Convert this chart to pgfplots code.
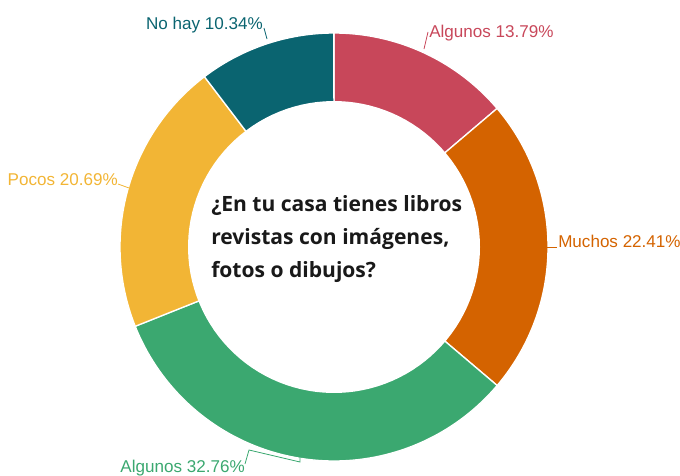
\documentclass[border=0pt]{standalone}
\usepackage{pgfplots}
\pgfplotsset{compat=1.18}
\usepackage{fontspec}
\setmainfont{Liberation Sans}
\newfontfamily\titlefont{Open Sans}
\definecolor{cRed}{HTML}{C8475A}
\definecolor{cOrange}{HTML}{D46300}
\definecolor{cGreen}{HTML}{3BA870}
\definecolor{cYellow}{HTML}{F2B535}
\definecolor{cTeal}{HTML}{0A6470}

\begin{document}
\begin{tikzpicture}
% shares in percent, clockwise from the top
\def\pA{13.79}\def\pB{22.41}\def\pC{32.76}\def\pD{20.69}\def\pE{10.34}
\pgfmathsetmacro{\aA}{90}
\pgfmathsetmacro{\aB}{\aA-3.6*\pA}
\pgfmathsetmacro{\aC}{\aB-3.6*\pB}
\pgfmathsetmacro{\aD}{\aC-3.6*\pC}
\pgfmathsetmacro{\aE}{\aD-3.6*\pD}
\pgfmathsetmacro{\aF}{\aE-3.6*\pE}
\def\cx{334}\def\cy{247}\def\R{214}\def\r{146}
\begin{axis}[
  name=ax,
  x=0.75pt, y=0.75pt, y dir=reverse,
  xmin=0, xmax=680, ymin=0, ymax=475,
  hide axis, clip=false,
  samples=80, variable=\t,
  every axis plot/.append style={draw=white, line width=1pt},
]
\addplot[fill=cRed, domain=\aB:\aA] ({\cx+\R*cos(t)},{\cy-\R*sin(t)}) -- (axis cs:\cx,\cy) -- cycle;
\addplot[fill=cOrange, domain=\aC:\aB] ({\cx+\R*cos(t)},{\cy-\R*sin(t)}) -- (axis cs:\cx,\cy) -- cycle;
\addplot[fill=cGreen, domain=\aD:\aC] ({\cx+\R*cos(t)},{\cy-\R*sin(t)}) -- (axis cs:\cx,\cy) -- cycle;
\addplot[fill=cYellow, domain=\aE:\aD] ({\cx+\R*cos(t)},{\cy-\R*sin(t)}) -- (axis cs:\cx,\cy) -- cycle;
\addplot[fill=cTeal, domain=\aF:\aE] ({\cx+\R*cos(t)},{\cy-\R*sin(t)}) -- (axis cs:\cx,\cy) -- cycle;
% hole
\addplot[fill=white, draw=none, domain=0:360, samples=120] ({\cx+\r*cos(t)},{\cy-\r*sin(t)}) -- cycle;

% leader lines
\draw[cTeal, line width=0.6pt] (axis cs:267,39) -- (axis cs:264,28);
\draw[cRed, line width=0.6pt] (axis cs:424,49) -- (axis cs:428,32);
\draw[cYellow, line width=0.6pt] (axis cs:118,184) -- (axis cs:129,188);
\draw[cOrange, line width=0.6pt] (axis cs:546,247) -- (axis cs:557,247);
\draw[cGreen, line width=0.6pt] (axis cs:245,464) -- (axis cs:249,450) -- (axis cs:300,462) -- (axis cs:300,456);

% labels
\node[anchor=base east, inner sep=0pt, text=cTeal, font=\fontsize{12.8}{14}\selectfont] at (axis cs:263,29) {No hay 10.34\%};
\node[anchor=base west, inner sep=0pt, text=cRed, font=\fontsize{12.8}{14}\selectfont] at (axis cs:429,37) {Algunos 13.79\%};
\node[anchor=base east, inner sep=0pt, text=cYellow, font=\fontsize{12.8}{14}\selectfont] at (axis cs:118,185) {Pocos 20.69\%};
\node[anchor=base west, inner sep=0pt, text=cOrange, font=\fontsize{12.8}{14}\selectfont] at (axis cs:558,247) {Muchos 22.41\%};
\node[anchor=base east, inner sep=0pt, text=cGreen, font=\fontsize{12.8}{14}\selectfont] at (axis cs:245,472) {Algunos 32.76\%};

% centre question
\node[anchor=base west, inner sep=0pt, text=black!90, font=\titlefont\bfseries\fontsize{15.8}{18}\selectfont] at (axis cs:211,211) {¿En tu casa tienes libros};
\node[anchor=base west, inner sep=0pt, text=black!90, font=\titlefont\bfseries\fontsize{15.8}{18}\selectfont] at (axis cs:211,244) {revistas con imágenes,};
\node[anchor=base west, inner sep=0pt, text=black!90, font=\titlefont\bfseries\fontsize{15.8}{18}\selectfont] at (axis cs:211,277) {fotos o dibujos?};
\end{axis}
\pgfresetboundingbox
\path (ax.south west) rectangle (ax.north east);
\end{tikzpicture}
\end{document}
